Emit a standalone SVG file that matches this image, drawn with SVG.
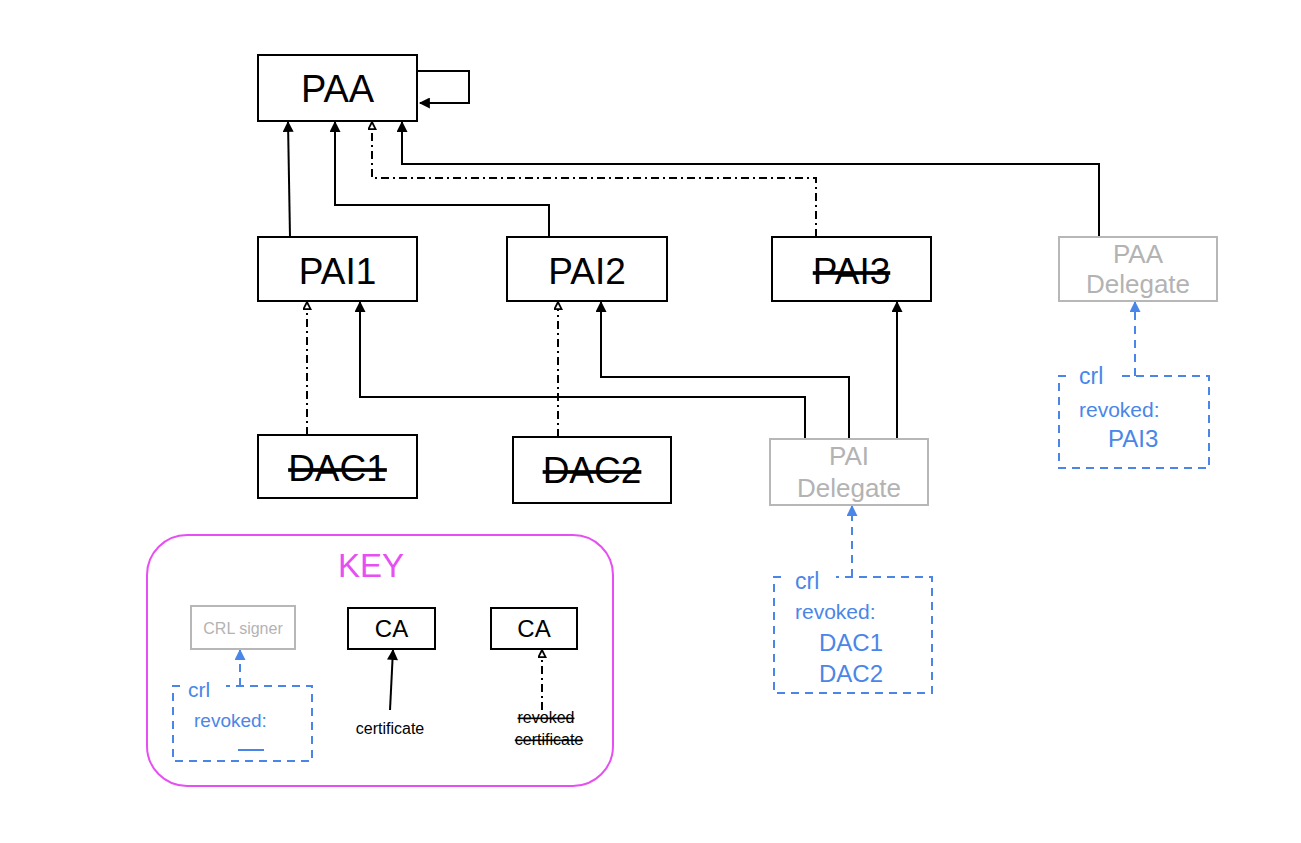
<svg xmlns="http://www.w3.org/2000/svg" width="1301" height="843" viewBox="0 0 1301 843">
<style>
.box{fill:#fff;stroke:#000;stroke-width:2}
.gbox{fill:#fff;stroke:#b7b7b7;stroke-width:2}
.t{font-family:"Liberation Sans",Arial,sans-serif;fill:#000;text-anchor:middle}
.g{font-family:"Liberation Sans",Arial,sans-serif;fill:#b3b3b3;text-anchor:middle}
.b{font-family:"Liberation Sans",Arial,sans-serif;fill:#4a86e8}
.s{fill:none;stroke:#000;stroke-width:2}
.dd{fill:none;stroke:#000;stroke-width:2;stroke-dasharray:8 4 2 4}
.bl{fill:none;stroke:#4a86e8;stroke-width:2;stroke-dasharray:8 6}
.strike{text-decoration:line-through}
</style>
<defs>
<marker id="af" viewBox="0 0 10 10" refX="9" refY="5" markerWidth="6" markerHeight="5.5" orient="auto" markerUnits="strokeWidth">
<path d="M0,0 L10,5 L0,10 Z" fill="#000"/>
</marker>
<marker id="ah" viewBox="0 0 10 10" refX="9" refY="5" markerWidth="4.5" markerHeight="4.5" orient="auto" markerUnits="strokeWidth">
<path d="M1,1 L9,5 L1,9 Z" fill="#fff" stroke="#000" stroke-width="2"/>
</marker>
<marker id="ab" viewBox="0 0 10 10" refX="9" refY="5" markerWidth="6" markerHeight="5.5" orient="auto" markerUnits="strokeWidth">
<path d="M0,0 L10,5 L0,10 Z" fill="#4a86e8"/>
</marker>
</defs>

<g id="connectors">
<path class="s" d="M417,71 H469 V103 H420" marker-end="url(#af)"/>
<path class="s" d="M290,237 L288,122" marker-end="url(#af)"/>
<path class="s" d="M549,237 V205 H335 V122" marker-end="url(#af)"/>
<path class="dd" d="M816,237 V178 H372 V122" marker-end="url(#ah)"/>
<path class="s" d="M1099,237 V164 H402 V122" marker-end="url(#af)"/>
<path class="dd" d="M307,435 V302" marker-end="url(#ah)"/>
<path class="dd" d="M558,437 V302" marker-end="url(#ah)"/>
<path class="s" d="M805,439 V397 H360 V302" marker-end="url(#af)"/>
<path class="s" d="M849,439 V377 H601 V302" marker-end="url(#af)"/>
<path class="s" d="M897,439 V302" marker-end="url(#af)"/>
<path class="bl" d="M852,577 V506" marker-end="url(#ab)"/>
<path class="bl" d="M1135,376 V302" marker-end="url(#ab)"/>
<path class="s" d="M390,710 L393,650" marker-end="url(#af)"/>
<path class="dd" d="M542,710 V650" marker-end="url(#ah)"/>
<path class="bl" d="M240,686 V650" marker-end="url(#ab)"/>
</g>

<g id="PAA">
<rect class="box" x="258" y="55" width="159" height="66"/>
<text class="t" x="337.5" y="102" font-size="38">PAA</text>
</g>
<g id="PAI1">
<rect class="box" x="258" y="237" width="159" height="64"/>
<text class="t" x="337.5" y="284" font-size="37">PAI1</text>
</g>
<g id="PAI2">
<rect class="box" x="507" y="237" width="160" height="64"/>
<text class="t" x="587" y="284" font-size="37">PAI2</text>
</g>
<g id="PAI3">
<rect class="box" x="772" y="237" width="159" height="64"/>
<text class="t strike" x="851.5" y="284" font-size="37">PAI3</text>
</g>
<g id="PAADelegate">
<rect class="gbox" x="1059" y="237" width="158" height="64"/>
<text class="g" x="1138" y="263" font-size="26">PAA</text>
<text class="g" x="1138" y="293" font-size="26">Delegate</text>
</g>
<g id="DAC1">
<rect class="box" x="258" y="435" width="159" height="63"/>
<text class="t strike" x="337.5" y="481" font-size="37">DAC1</text>
</g>
<g id="DAC2">
<rect class="box" x="513" y="437" width="158" height="66"/>
<text class="t strike" x="592" y="483" font-size="37">DAC2</text>
</g>
<g id="PAIDelegate">
<rect class="gbox" x="770" y="439" width="158" height="66"/>
<text class="g" x="849" y="465" font-size="26">PAI</text>
<text class="g" x="849" y="497" font-size="26">Delegate</text>
</g>
<g id="crlPAI">
<path class="bl" d="M781,577 H774 V693 H932 V577 H836"/>
<text class="b" x="795" y="589" font-size="23">crl</text>
<text class="b" x="795" y="619" font-size="21">revoked:</text>
<text class="b" x="819" y="651" font-size="24">DAC1</text>
<text class="b" x="819" y="682" font-size="24">DAC2</text>
</g>
<g id="crlPAA">
<path class="bl" d="M1066,376 H1059 V468 H1209 V376 H1120"/>
<text class="b" x="1079" y="384" font-size="23">crl</text>
<text class="b" x="1079" y="417" font-size="21">revoked:</text>
<text class="b" x="1108" y="447" font-size="24">PAI3</text>
</g>

<g id="key">
<rect x="147" y="535" width="466" height="251" rx="40" ry="40" fill="none" stroke="#e74ff2" stroke-width="2"/>
<text x="371" y="577" font-size="33" font-family="'Liberation Sans',Arial,sans-serif" fill="#e74ff2" text-anchor="middle">KEY</text>
</g>
<g id="keyCRLsigner">
<rect class="gbox" x="191" y="606" width="104" height="43"/>
<text class="g" x="243" y="634" font-size="16">CRL signer</text>
</g>
<g id="keyCA1">
<rect class="box" x="348" y="608" width="87" height="41"/>
<text class="t" x="391.5" y="637" font-size="24">CA</text>
</g>
<g id="keyCA2">
<rect class="box" x="491" y="608" width="86" height="41"/>
<text class="t" x="534" y="637" font-size="24">CA</text>
</g>
<g id="keyCrl">
<path class="bl" d="M180,686 H173 V761 H312 V686 H226"/>
<text class="b" x="188" y="697" font-size="21">crl</text>
<text class="b" x="194" y="727" font-size="19">revoked:</text>
<line x1="238" y1="750" x2="264" y2="750" stroke="#4a86e8" stroke-width="2"/>
</g>
<g id="keyLabels">
<text class="t" x="390" y="734" font-size="16">certificate</text>
<text class="t strike" x="546" y="723" font-size="16">revoked</text>
<text class="t strike" x="549" y="745" font-size="16">certificate</text>
</g>
</svg>
